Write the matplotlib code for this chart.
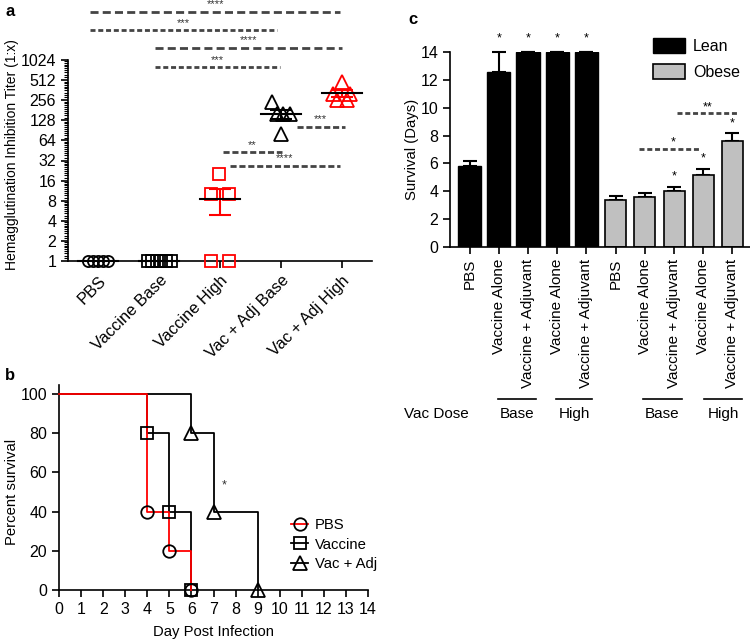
import numpy as np
import matplotlib.pyplot as plt
from matplotlib.lines import Line2D
from matplotlib.ticker import LogLocator, NullFormatter

plt.rcParams['font.family'] = ['Liberation Sans', 'DejaVu Sans']

# ---------------- data ----------------
# (a) hemagglutination inhibition titers
hi_groups = ["PBS", "Vaccine Base", "Vaccine High", "Vac + Adj Base", "Vac + Adj High"]
hi_pbs = [1, 1, 1, 1, 1]
hi_vac_base = [1, 1, 1, 1, 1, 1]
hi_vac_high = [1, 1, 10, 10, 20]
hi_adj_base = [240, 160, 160, 160, 80]
hi_adj_high = [480, 320, 320, 256, 256]
hi_ticks = [1, 2, 4, 8, 16, 32, 64, 128, 256, 512, 1024]
hi_sig_labels = ["****", "***", "****", "***", "**", "****", "***"]

# (b) survival curves
surv_names = ["PBS", "Vaccine", "Vac + Adj"]
pbs_days = [0, 4, 5, 6]
pbs_pct = [100, 40, 20, 0]
vac_days = [0, 4, 5, 6]
vac_pct = [100, 80, 40, 0]
adj_days = [0, 6, 7, 9]
adj_pct = [100, 80, 40, 0]

# (c) mean survival days
bar_labels = ["PBS", "Vaccine Alone", "Vaccine + Adjuvant", "Vaccine Alone", "Vaccine + Adjuvant"]
lean_mean = [5.8, 12.6, 14, 14, 14]
lean_sem = [0.4, 1.4, 0, 0, 0]
obese_mean = [3.4, 3.6, 4.0, 5.2, 7.6]
obese_sem = [0.25, 0.25, 0.3, 0.4, 0.55]
lean_stars = ["", "*", "*", "*", "*"]
obese_stars = ["", "", "*", "*", "*"]
dose_names = ["Base", "High"]

W, H = 750, 643


def box(l, r, t, b):
    # pixel box -> figure fraction
    return [l / W, 1 - b / H, (r - l) / W, (b - t) / H]


fig = plt.figure(figsize=(7.5, 6.43), dpi=100)
dash_col = "#444444"

# ---------------- panel a ----------------
axa = fig.add_axes(box(68, 372, 60, 261))
axa.set_yscale('log', base=2)
groups = [hi_pbs, hi_vac_base, hi_vac_high, hi_adj_base, hi_adj_high]
markers = ['o', 's', 's', '^', '^']
colors = ['black', 'black', 'red', 'black', 'red']
msizes = [8, 8, 8.5, 10, 10]
# horizontal scatter of the points (pixels)
offsets_px = [[-10, -5, 0, 5, 10],
              [-11.5, -6.9, -2.3, 2.3, 6.9, 11.5],
              [-9, 9, -9, 9, -1],
              [-9, -4, 2, 9, 0],
              [0, -9, 8, -5, 5]]
px_per_unit = 61.0
for i, vals in enumerate(groups):
    xs = i + np.array(offsets_px[i]) / px_per_unit
    axa.plot(xs, vals, linestyle='none', marker=markers[i], ms=msizes[i],
             mfc='none', mec=colors[i], mew=1.3, clip_on=False, zorder=3)
    m = np.mean(vals)
    s = np.std(vals, ddof=1) / np.sqrt(len(vals))
    if s > 0:
        axa.errorbar(i, m, yerr=s, fmt='none', ecolor=colors[i], elinewidth=1.5,
                     capsize=8, capthick=1.5, zorder=3)
    axa.plot([i - 0.33, i + 0.33], [m, m], color='black', lw=1.5, zorder=4,
             clip_on=False)

axa.set_xlim(-0.5, 4.5)
axa.set_ylim(1, 1024)
axa.set_yticks(hi_ticks)
axa.set_yticklabels([str(t) for t in hi_ticks])
axa.yaxis.set_minor_locator(LogLocator(base=2, subs=np.arange(1.1, 2.0, 0.1), numticks=50))
axa.yaxis.set_minor_formatter(NullFormatter())
axa.set_xticks(range(5))
axa.set_xticklabels(hi_groups, rotation=45, ha='right', rotation_mode='anchor')
axa.set_ylabel("Hemagglutination Inhibition Titer (1:x)", fontsize=10)
axa.yaxis.set_label_coords(-0.161, 0.53)

# significance brackets: x0, x1, log2 height, dash pattern
sig_pos = [(-0.13, 3.97, 12.39, (2.9, 1.5)),
           (-0.13, 2.93, 11.49, (1.8, 1.0)),
           (0.93, 4.0, 10.6, (2.9, 1.5)),
           (0.93, 2.98, 9.65, (1.8, 1.0)),
           (2.05, 3.02, 5.42, (2.2, 1.0)),
           (2.16, 3.97, 4.73, (2.2, 1.0)),
           (3.26, 4.05, 6.67, (2.2, 1.0))]
for (x0, x1, ly, dash), lab in zip(sig_pos, hi_sig_labels):
    axa.plot([x0, x1], [2 ** ly, 2 ** ly], color=dash_col, lw=2, dashes=dash,
             clip_on=False)
    axa.text((x0 + x1) / 2, 2 ** (ly + 0.12), lab, ha='center', va='bottom',
             fontsize=8, color='#333333', clip_on=False)

# ---------------- panel b ----------------
axb = fig.add_axes(box(59, 368, 385, 590))
curves = [(vac_days, vac_pct, 's', 'black', 8.8),
          (adj_days, adj_pct, '^', 'black', 10),
          (pbs_days, pbs_pct, 'o', 'red', 9)]
for days, pct, mk, col, ms in curves:
    axb.plot(days, pct, drawstyle='steps-post', color=col, lw=1.3, clip_on=False,
             zorder=3 if col == 'red' else 2)
    axb.plot(days[1:], pct[1:], linestyle='none', marker=mk, ms=ms, mfc='none',
             mec='black', mew=1.3, clip_on=False, zorder=4)
axb.text(7.47, 53.6, "*", ha='center', va='center', fontsize=9, color='#333333')
axb.set_xlim(0, 14)
axb.set_ylim(0, 104.6)
axb.set_xticks(range(15))
axb.set_yticks([0, 20, 40, 60, 80, 100])
axb.set_xlabel("Day Post Infection", fontsize=10.7)
axb.set_ylabel("Percent survival", fontsize=10.7)
axb.xaxis.set_label_coords(0.5, -0.171)
axb.yaxis.set_label_coords(-0.129, 0.48)
handles = [Line2D([], [], color='red', marker='o', ms=9, mfc='none', mec='black', mew=1.3, lw=1.3),
           Line2D([], [], color='black', marker='s', ms=8.8, mfc='none', mec='black', mew=1.3, lw=1.3),
           Line2D([], [], color='black', marker='^', ms=10, mfc='none', mec='black', mew=1.3, lw=1.3)]
axb.legend(handles, surv_names, loc='upper left', bbox_to_anchor=(284 / W, 1 - 511 / H),
           bbox_transform=fig.transFigure, frameon=False, fontsize=10.7,
           handlelength=1.1, handletextpad=0.5, labelspacing=0.35, borderpad=0)

# ---------------- panel c ----------------
axc = fig.add_axes(box(450, 750, 52, 247))
x_lean = np.arange(5)
x_obese = np.arange(5, 10)
axc.bar(x_lean, lean_mean, width=0.8, color='black', edgecolor='black', lw=1,
        label="Lean", zorder=2)
axc.bar(x_obese, obese_mean, width=0.72, color='#c0c0c0', edgecolor='black', lw=1.2,
        label="Obese", zorder=2)
axc.errorbar(x_lean, lean_mean, yerr=[np.zeros(5), lean_sem], fmt='none', ecolor='black',
             elinewidth=1.5, capsize=4.7, capthick=1.5, zorder=1, clip_on=False)
axc.errorbar(x_obese, obese_mean, yerr=[np.zeros(5), obese_sem], fmt='none', ecolor='black',
             elinewidth=1.5, capsize=4.7, capthick=1.5, zorder=1)
for x, st in zip(x_lean, lean_stars):
    if st:
        axc.text(x, 15.0, st, ha='center', va='center', fontsize=9, clip_on=False)
for x, st, m, s in zip(x_obese, obese_stars, obese_mean, obese_sem):
    if st:
        axc.text(x, m + s + 0.75, st, ha='center', va='center', fontsize=9)
# brackets between obese groups
for x0, x1, y, lab, tx in [(5.8, 7.93, 7.03, "*", 6.97), (7.1, 9.19, 9.6, "**", 8.16)]:
    axc.plot([x0, x1], [y, y], color=dash_col, lw=2, dashes=(1.8, 1.0), clip_on=False)
    axc.text(tx, y + 0.45, lab, ha='center', va='center', fontsize=9)

axc.set_xlim(-0.67, 9.6)
axc.set_ylim(0, 14)
axc.set_yticks(range(0, 15, 2))
axc.set_xticks(range(10))
axc.set_xticklabels(bar_labels * 2, rotation=90)
axc.set_ylabel("Survival (Days)", fontsize=10.7)
axc.yaxis.set_label_coords(-0.103, 0.5)
axc.legend(loc='upper left', bbox_to_anchor=(645 / W, 1 - 30 / H), bbox_transform=fig.transFigure,
           frameon=False, fontsize=11.5, handlelength=2.0, handleheight=1.1,
           handletextpad=0.5, labelspacing=0.6, borderpad=0)

trans = axc.get_xaxis_transform()
axc.text(-1.12, -0.856, "Vac Dose", transform=trans, ha='center', va='center', fontsize=11, clip_on=False)
for x0, x1, name in [(0.97, 2.29, dose_names[0]), (2.96, 4.2, dose_names[1]),
                     (5.93, 7.27, dose_names[0]), (8.03, 9.33, dose_names[1])]:
    axc.plot([x0, x1], [-0.782, -0.782], transform=trans, color='black', lw=1.2, clip_on=False)
    axc.text((x0 + x1) / 2, -0.856, name, transform=trans, ha='center', va='center',
             fontsize=11, clip_on=False)

# ---------------- common styling ----------------
for ax in (axa, axb, axc):
    ax.spines['top'].set_visible(False)
    ax.spines['right'].set_visible(False)
    ax.spines['left'].set_linewidth(1.2)
    ax.spines['bottom'].set_linewidth(1.2)
    ax.tick_params(which='major', direction='out', length=5, width=1.2, labelsize=11.5)
axa.tick_params(which='minor', direction='out', length=3, width=0.8)
axa.tick_params(axis='x', labelsize=11.8)
axc.tick_params(axis='x', labelsize=11)

fig.text(5 / W, 1 - 12 / H, "a", fontsize=12, fontweight='bold', va='center')
fig.text(5 / W, 1 - 375 / H, "b", fontsize=12, fontweight='bold', va='center')
fig.text(408 / W, 1 - 20 / H, "c", fontsize=12, fontweight='bold', va='center')

fig.savefig("out.png", dpi=100)
